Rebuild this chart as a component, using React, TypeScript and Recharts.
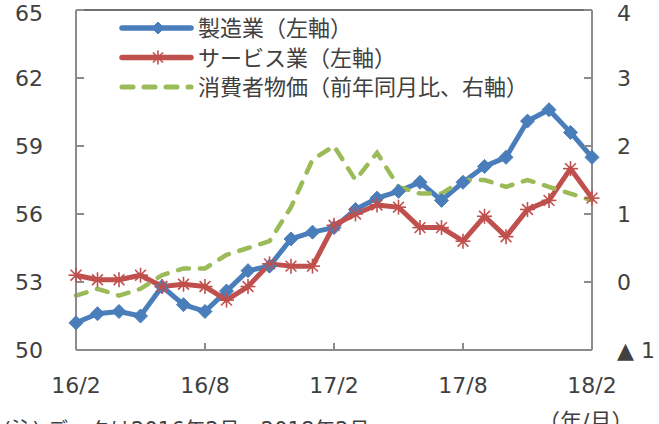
import React from 'react';
import { LineChart, Line, XAxis, YAxis, Legend, ReferenceLine } from 'recharts';

const months = [
  '16/2', '16/3', '16/4', '16/5', '16/6', '16/7', '16/8', '16/9', '16/10', '16/11', '16/12',
  '17/1', '17/2', '17/3', '17/4', '17/5', '17/6', '17/7', '17/8', '17/9', '17/10', '17/11', '17/12',
  '18/1', '18/2',
];
const manufacturing = [51.2, 51.6, 51.7, 51.5, 52.8, 52.0, 51.7, 52.6, 53.5, 53.7, 54.9, 55.2, 55.4, 56.2, 56.7, 57.0, 57.4, 56.6, 57.4, 58.1, 58.5, 60.1, 60.6, 59.6, 58.5];
const services = [53.3, 53.1, 53.1, 53.3, 52.8, 52.9, 52.8, 52.2, 52.8, 53.8, 53.7, 53.7, 55.5, 56.0, 56.4, 56.3, 55.4, 55.4, 54.8, 55.9, 55.0, 56.2, 56.6, 58.0, 56.7];
const cpi = [-0.2, -0.1, -0.2, -0.1, 0.1, 0.2, 0.2, 0.4, 0.5, 0.6, 1.1, 1.8, 2.0, 1.5, 1.9, 1.4, 1.3, 1.3, 1.5, 1.5, 1.4, 1.5, 1.4, 1.3, 1.2];

const leftTicks = [50, 53, 56, 59, 62, 65];
const rightTicks = [-1, 0, 1, 2, 3, 4];

const seriesNames = {
  manufacturing: '製造業（左軸）',
  services: 'サービス業（左軸）',
  cpi: '消費者物価（前年同月比、右軸）',
};

const BLUE = '#4A7EBB';
const RED = '#C0504D';
const GREEN = '#9BBB59';
const AXIS = '#8C8C8C';
const TEXT = '#404040';
const FONT = "'DejaVu Sans', 'Noto Sans CJK JP', sans-serif";

const data = months.map((m, i) => ({
  month: m,
  manufacturing: manufacturing[i],
  services: services[i],
  cpi: cpi[i],
}));

const diamond = (cx: number, cy: number, r: number, color: string, key?: any) => (
  <path key={key} d={`M${cx},${cy - r} L${cx + r},${cy} L${cx},${cy + r} L${cx - r},${cy} Z`} fill={color} stroke={color} strokeWidth={1} />
);

const asterisk = (cx: number, cy: number, r: number, color: string, key?: any) => {
  const d = r * 0.72;
  return (
    <g key={key} stroke={color} strokeWidth={1.6}>
      <line x1={cx} y1={cy - r} x2={cx} y2={cy + r} />
      <line x1={cx - d} y1={cy - d} x2={cx + d} y2={cy + d} />
      <line x1={cx - d} y1={cy + d} x2={cx + d} y2={cy - d} />
      <line x1={cx - r} y1={cy} x2={cx + r} y2={cy} />
    </g>
  );
};

const BlueDot = (props: any) => {
  const { cx, cy, index } = props;
  if (cx == null || cy == null) return <g key={`b${index}`} />;
  return diamond(cx, cy, 7, BLUE, `b${index}`);
};

const RedDot = (props: any) => {
  const { cx, cy, index } = props;
  if (cx == null || cy == null) return <g key={`r${index}`} />;
  return asterisk(cx, cy, 7.5, RED, `r${index}`);
};

const LegendContent = (props: any) => {
  const payload: any[] = props.payload || [];
  const order = ['manufacturing', 'services', 'cpi'];
  const items = order
    .map((k) => payload.find((p) => p.dataKey === k))
    .filter(Boolean);
  return (
    <svg width={440} height={92} style={{ display: 'block', overflow: 'visible' }}>
      {items.map((it: any, i: number) => {
        const cy = 16 + i * 29.5;
        const k = it.dataKey;
        const color = k === 'manufacturing' ? BLUE : k === 'services' ? RED : GREEN;
        return (
          <g key={k}>
            {k === 'cpi' ? (
              <line x1={12} y1={cy} x2={81} y2={cy} stroke={color} strokeWidth={5} strokeDasharray="11 11" strokeLinecap="round" />
            ) : (
              <line x1={12} y1={cy} x2={81} y2={cy} stroke={color} strokeWidth={5.5} strokeLinecap="round" />
            )}
            {k === 'manufacturing' && diamond(48, cy, 6, color)}
            {k === 'services' && asterisk(48, cy, 7, color)}
            <text x={88} y={cy + 8} fontSize={22} fill={TEXT} fontFamily={FONT}>
              {it.value}
            </text>
          </g>
        );
      })}
    </svg>
  );
};

const rightFormatter = (v: number) => (v < 0 ? `▲ ${-v}` : `${v}`);

const tickStyle = { fill: TEXT, fontSize: 22, fontFamily: FONT };

export default function App() {
  return (
    <div style={{ position: 'absolute', left: 0, top: 0, width: 659, height: 424, background: '#fff', overflow: 'hidden' }}>
      <LineChart width={659} height={424} data={data} margin={{ top: 10, right: 0, bottom: 0, left: 0 }}>
        <XAxis
          dataKey="month"
          interval={5}
          height={74}
          tickSize={-7}
          tickMargin={34}
          axisLine={{ stroke: AXIS, strokeWidth: 2 }}
          tickLine={{ stroke: AXIS, strokeWidth: 2 }}
          tick={tickStyle}
        />
        <YAxis
          yAxisId="left"
          width={76}
          domain={[50, 65]}
          ticks={leftTicks}
          type="number"
          allowDataOverflow
          tickSize={-8}
          tickMargin={41}
          axisLine={{ stroke: AXIS, strokeWidth: 2 }}
          tickLine={{ stroke: AXIS, strokeWidth: 2 }}
          tick={tickStyle}
        />
        <YAxis
          yAxisId="right"
          orientation="right"
          width={67}
          domain={[-1, 4]}
          ticks={rightTicks}
          type="number"
          allowDataOverflow
          tickSize={-8}
          tickMargin={33}
          tickFormatter={rightFormatter}
          axisLine={{ stroke: AXIS, strokeWidth: 2 }}
          tickLine={{ stroke: AXIS, strokeWidth: 2 }}
          tick={tickStyle}
        />
        <ReferenceLine yAxisId="left" y={65} stroke={TEXT} strokeWidth={1.5} />
        <Line
          yAxisId="left"
          type="linear"
          dataKey="manufacturing"
          name={seriesNames.manufacturing}
          stroke={BLUE}
          strokeWidth={5}
          strokeLinejoin="round"
          dot={BlueDot}
          activeDot={false}
          isAnimationActive={false}
        />
        <Line
          yAxisId="left"
          type="linear"
          dataKey="services"
          name={seriesNames.services}
          stroke={RED}
          strokeWidth={5}
          strokeLinejoin="round"
          dot={RedDot}
          activeDot={false}
          isAnimationActive={false}
        />
        <Line
          yAxisId="right"
          type="linear"
          dataKey="cpi"
          name={seriesNames.cpi}
          stroke={GREEN}
          strokeWidth={4.5}
          strokeDasharray="11 11"
          strokeLinecap="round"
          dot={false}
          activeDot={false}
          isAnimationActive={false}
        />
        <Legend
          layout="vertical"
          verticalAlign="middle"
          align="center"
          content={LegendContent}
          wrapperStyle={{ position: 'absolute', left: 110, top: 12, width: 440, height: 92 }}
        />
      </LineChart>
      <svg width={659} height={424} style={{ position: 'absolute', left: 0, top: 0, pointerEvents: 'none' }}>
        <text x={3} y={437} fontSize={21} fill={TEXT} fontFamily={FONT}>(注) データは2016年2月～2018年2月</text>
        <text x={538} y={429} fontSize={22} fill={TEXT} fontFamily={FONT}>（年/月）</text>
      </svg>
    </div>
  );
}
